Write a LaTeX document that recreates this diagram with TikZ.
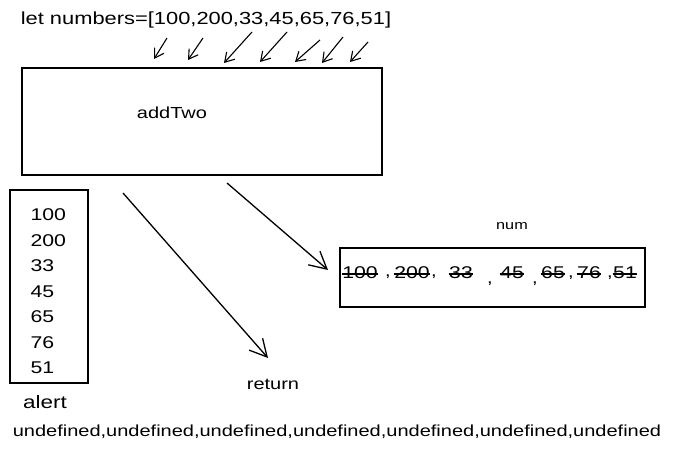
\documentclass[tikz,border=0pt]{standalone}
\usepackage{fontspec}
\setmainfont[FakeStretch=1.25]{Liberation Sans}
\usetikzlibrary{arrows.meta,positioning}

\tikzset{
  sketchbox/.style={draw,line width=1.2pt},
  smallhand/.style={-{Straight Barb[length=9pt,width=11pt]},line width=1.1pt},
  bighand/.style={-{Straight Barb[length=17pt,width=18pt]},line width=1.3pt},
  struck/.style={inner sep=0.5pt,path picture={\draw[line width=1.1pt]
      ([yshift=-1pt]path picture bounding box.west) -- ([yshift=-1pt]path picture bounding box.east);}},
}

\begin{document}
\begin{tikzpicture}[x=1pt,y=-1pt]
  \useasboundingbox (0,0) rectangle (675,452);

  % declaration and its arrows
  \node[font=\fontsize{17.5}{20}\selectfont] (decl) at (206,20) {let numbers=[100,200,33,45,65,76,51]};
  \foreach \sx/\sy/\ex/\ey [count=\i] in {167/38/154/59, 203/38/188/60, 252/32/224/63,
      287/32/260/62, 320/40/295/62, 343/37/322/63, 368/42/350/62} {
    \coordinate (s\i) at (\sx,\sy);
    \coordinate (e\i) at (\ex,\ey);
    \draw[smallhand] (s\i) -- (e\i);
  }

  % function box
  \node[sketchbox,minimum width=360pt,minimum height=107pt] (addtwo) at (202,121.5) {};
  \node[font=\fontsize{16}{18}\selectfont] (fname) at (172,113) {addTwo};

  % alert column
  \node[sketchbox,minimum width=78pt,minimum height=193pt] (alertbox) at (49,286.5) {};
  \foreach \v [count=\i] in {100,200,33,45,65,76,51}
    \node[anchor=west,font=\fontsize{17}{19}\selectfont] (a\i) at (27,{215+25.5*(\i-1)}) {\v};
  \node[font=\fontsize{18}{20}\selectfont] (alertlbl) at (45,402) {alert};
  \node[font=\fontsize{16}{18}\selectfont] (undef) at (337,432)
    {undefined,undefined,undefined,undefined,undefined,undefined,undefined};

  % num box
  \node[font=\fontsize{13}{15}\selectfont] (numlbl) at (512,226) {num};
  \node[sketchbox,minimum width=305pt,minimum height=59pt] (numbox) at (492.5,277.5) {};
  \foreach \x/\v [count=\i] in {360/100, 412/200, 461/33, 512/45, 553/65, 589/76, 625/51}
    \node[struck,font=\fontsize{17}{19}\selectfont] (v\i) at (\x,273) {\v};
  \foreach \x/\y [count=\i] in {388/277, 434/277, 490/284, 535/284, 571/278, 610/278}
    \node[inner sep=0pt,font=\fontsize{16}{18}\selectfont] (c\i) at (\x,\y) {,};

  % return label
  \node[font=\fontsize{16}{18}\selectfont] (ret) at (273,384) {return};

  % big arrows
  \coordinate (rstart) at (123,193);
  \coordinate (rtip) at (268,358);
  \coordinate (nstart) at (227,183);
  \coordinate (ntip) at (328,270);
  \draw[bighand] (rstart) -- (rtip);
  \draw[bighand] (nstart) -- (ntip);
\end{tikzpicture}
\end{document}
